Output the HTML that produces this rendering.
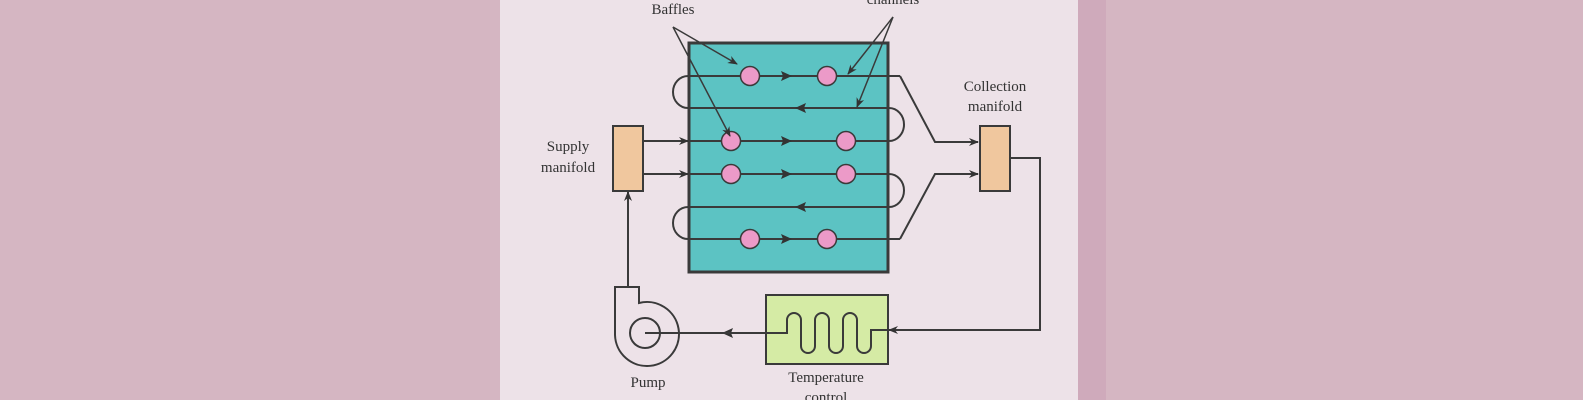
<!DOCTYPE html>
<html><head><meta charset="utf-8"><style>
body{margin:0;width:1583px;height:400px;overflow:hidden;background:#d5b6c2;}
svg{display:block}
text{font-family:"Liberation Serif",serif;fill:#333;font-size:15px}
</style></head><body>
<svg width="1583" height="400" viewBox="0 0 1583 400">
<defs>
<marker id="a" viewBox="0 0 10 10" refX="9" refY="5" markerWidth="10" markerHeight="10" orient="auto-start-reverse" markerUnits="userSpaceOnUse"><path d="M0,1 L10,5 L0,9 L3,5 Z" fill="#333"/></marker>
</defs>
<rect x="0" y="0" width="1583" height="400" fill="#d5b6c2"/>
<rect x="1078" y="0" width="28" height="400" fill="#cfaabb"/>
<rect x="500" y="0" width="578" height="400" fill="#ede2e8"/>
<g stroke="#3a3a3a" stroke-width="2" fill="none">
<rect x="689" y="43" width="199" height="229" fill="#5cc3c3" stroke-width="3"/>
<line x1="689" y1="76" x2="900" y2="76"/>
<line x1="689" y1="108" x2="888" y2="108"/>
<line x1="689" y1="141" x2="888" y2="141"/>
<line x1="689" y1="174" x2="888" y2="174"/>
<line x1="689" y1="207" x2="888" y2="207"/>
<line x1="689" y1="239" x2="900" y2="239"/>
<path d="M689,76 L688,76 A15,16 0 0 0 688,108 L689,108"/>
<path d="M689,207 L688,207 A15,16 0 0 0 688,239 L689,239"/>
<path d="M888,108 L889,108 A15,16.5 0 0 1 889,141 L888,141"/>
<path d="M888,174 L889,174 A15,16.5 0 0 1 889,207 L888,207"/>
<path d="M900,76 L935,142 L978,142" marker-end="url(#a)"/>
<path d="M900,239 L935,174 L978,174" marker-end="url(#a)"/>
<line x1="643" y1="141" x2="688" y2="141" marker-end="url(#a)"/>
<line x1="643" y1="174" x2="688" y2="174" marker-end="url(#a)"/>
<path d="M1010,158 L1040,158 L1040,330 L889,330" marker-end="url(#a)"/>
<path d="M628,287 L628,192" marker-end="url(#a)"/>
</g>
<g fill="#333">
<path d="M782,76 l10,0 l-11,-5 l2,5 l-2,5 l11,-5z"/>
<path d="M782,239 l10,0 l-11,-5 l2,5 l-2,5 l11,-5z"/>
<path d="M782,141 l10,0 l-11,-5 l2,5 l-2,5 l11,-5z"/>
<path d="M782,174 l10,0 l-11,-5 l2,5 l-2,5 l11,-5z"/>
<path d="M795,108 l11,-5 l-2,5 l2,5 z"/>
<path d="M795,207 l11,-5 l-2,5 l2,5 z"/>
<path d="M722,333 l11,-5 l-2,5 l2,5 z"/>
</g>
<g fill="#ec9ac8" stroke="#3a3a3a" stroke-width="1.5">
<circle cx="750" cy="76" r="9.5"/><circle cx="827" cy="76" r="9.5"/>
<circle cx="731" cy="141" r="9.5"/><circle cx="846" cy="141" r="9.5"/>
<circle cx="731" cy="174" r="9.5"/><circle cx="846" cy="174" r="9.5"/>
<circle cx="750" cy="239" r="9.5"/><circle cx="827" cy="239" r="9.5"/>
</g>
<rect x="613" y="126" width="30" height="65" fill="#f0c79e" stroke="#3a3a3a" stroke-width="2"/>
<rect x="980" y="126" width="30" height="65" fill="#f0c79e" stroke="#3a3a3a" stroke-width="2"/>
<rect x="766" y="295" width="122" height="69" fill="#d5eba5" stroke="#3a3a3a" stroke-width="2"/>
<path d="M766,333 L787,333 L787,320 A7,7 0 0 1 801,320 L801,346 A7,7 0 0 0 815,346 L815,320 A7,7 0 0 1 829,320 L829,346 A7,7 0 0 0 843,346 L843,320 A7,7 0 0 1 857,320 L857,346 A7,7 0 0 0 871,346 L871,330 L889,330" fill="none" stroke="#3a3a3a" stroke-width="2"/>
<path d="M615,287 L615,335 A32,32 0 1 0 639,303 L639,287 Z" fill="none" stroke="#3a3a3a" stroke-width="2"/>
<circle cx="645" cy="333" r="15" fill="none" stroke="#3a3a3a" stroke-width="2"/>
<line x1="645" y1="333" x2="766" y2="333" stroke="#3a3a3a" stroke-width="2"/>
<g stroke="#3a3a3a" stroke-width="1.5" fill="none">
<line x1="673" y1="27" x2="737" y2="64" marker-end="url(#a)"/>
<line x1="673" y1="27" x2="730" y2="136" marker-end="url(#a)"/>
<line x1="893" y1="17" x2="848" y2="74" marker-end="url(#a)"/>
<line x1="893" y1="17" x2="857" y2="107" marker-end="url(#a)"/>
</g>
<text x="673" y="14" text-anchor="middle">Baffles</text>
<text x="893" y="4" text-anchor="middle">channels</text>
<text x="995" y="91" text-anchor="middle">Collection</text>
<text x="995" y="111" text-anchor="middle">manifold</text>
<text x="568" y="151" text-anchor="middle">Supply</text>
<text x="568" y="172" text-anchor="middle">manifold</text>
<text x="648" y="387" text-anchor="middle">Pump</text>
<text x="826" y="382" text-anchor="middle">Temperature</text>
<text x="826" y="402" text-anchor="middle">control</text>
</svg>
</body></html>
